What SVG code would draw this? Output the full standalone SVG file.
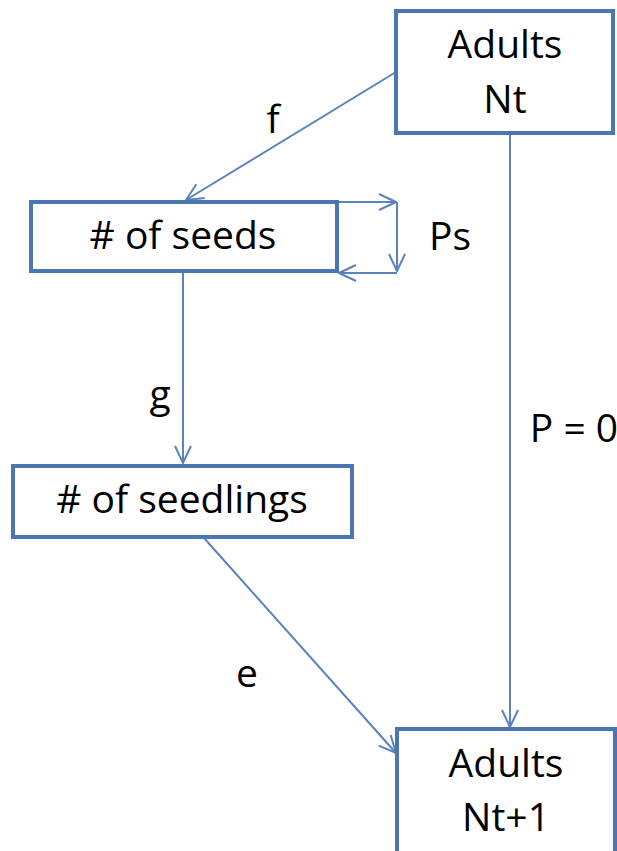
<svg xmlns="http://www.w3.org/2000/svg" width="617" height="851" viewBox="0 0 617 851">
<defs>
<marker id="arr" viewBox="0 0 20 20" refX="19" refY="10" markerWidth="20" markerHeight="20" markerUnits="userSpaceOnUse" orient="auto">
<path d="M2,2 L19,10 L2,18" fill="none" stroke="#5b82bd" stroke-width="2"/>
</marker>
<style>
.box{fill:#fff;stroke:#4a76b2;stroke-width:4}
.con{fill:none;stroke:#5b82bd;stroke-width:2;marker-end:url(#arr)}
text{font-family:"Open Sans","Liberation Sans",sans-serif;font-size:39px;fill:#000;text-anchor:middle}
</style>
</defs>
<rect width="617" height="851" fill="#fff"/>
<g id="connectors">
<line class="con" x1="396" y1="72" x2="186" y2="200"/>
<line class="con" x1="510" y1="134" x2="510" y2="727"/>
<line class="con" x1="183" y1="273" x2="183" y2="463"/>
<line class="con" x1="204" y1="538" x2="396" y2="753"/>
<line class="con" x1="338" y1="202" x2="396" y2="202"/>
<line class="con" x1="397" y1="202" x2="397" y2="271"/>
<line class="con" x1="397" y1="273" x2="339" y2="273"/>
</g>
<g id="adults-nt">
<rect class="box" x="396" y="11" width="217" height="122"/>
<text x="505" y="58">Adults</text>
<text x="505" y="113">Nt</text>
</g>
<g id="seeds">
<rect class="box" x="31" y="202" width="306" height="69"/>
<text x="183" y="249">#  of seeds</text>
</g>
<g id="seedlings">
<rect class="box" x="13" y="466" width="339" height="71"/>
<text x="182" y="513">#  of seedlings</text>
</g>
<g id="adults-nt1">
<rect class="box" x="397" y="729" width="218" height="130"/>
<text x="506" y="777">Adults</text>
<text x="506" y="831">Nt+1</text>
</g>
<g id="labels">
<text x="273" y="133">f</text>
<text x="450" y="250">Ps</text>
<text x="160" y="408">g</text>
<text x="574" y="442">P = 0</text>
<text x="247" y="687">e</text>
</g>
</svg>
